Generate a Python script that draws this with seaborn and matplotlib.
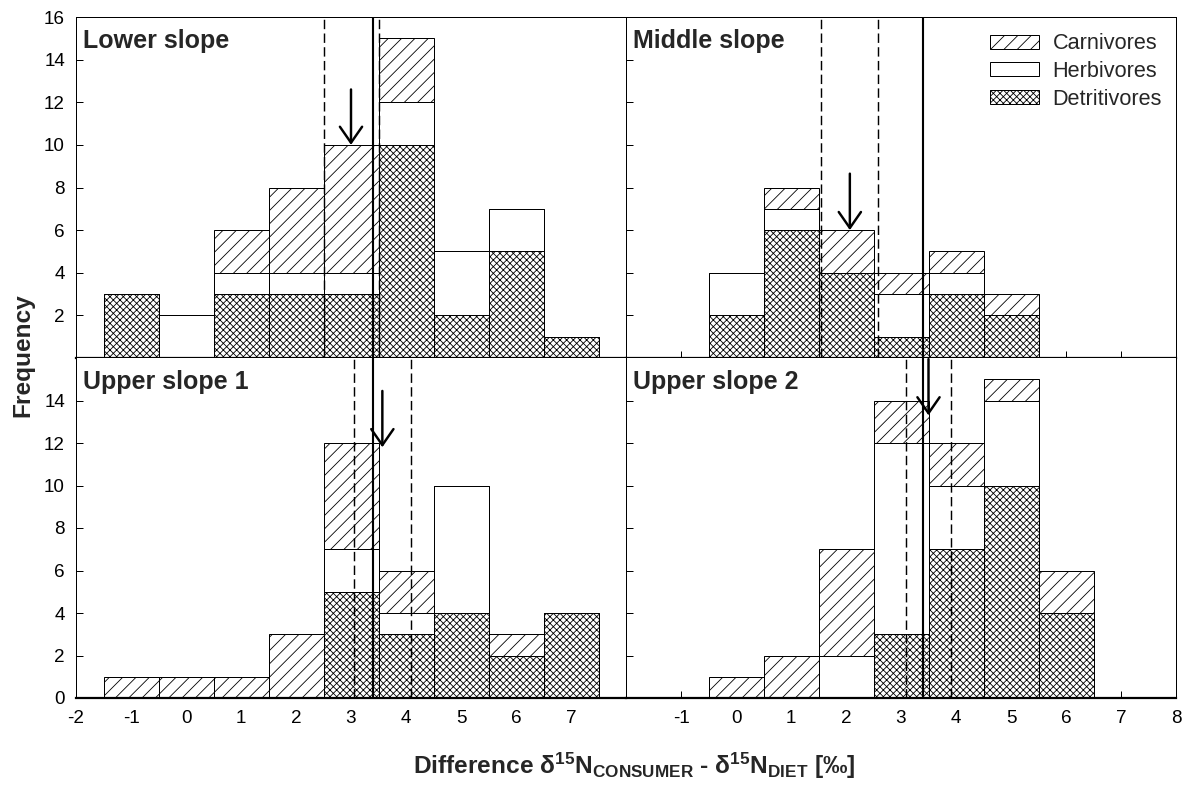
import numpy as np
import pandas as pd
import matplotlib
matplotlib.use("Agg")
import matplotlib.pyplot as plt
from matplotlib.patches import Patch
import seaborn as sns

# ---------------- data ----------------
panel_titles = ["Lower slope", "Middle slope", "Upper slope 1", "Upper slope 2"]
groups = ["Carnivores", "Herbivores", "Detritivores"]

bins_lower = [-1, 0, 1, 2, 3, 4, 5, 6, 7]
det_lower = [3, 0, 3, 3, 3, 10, 2, 5, 1]
herb_lower = [0, 2, 1, 1, 1, 2, 3, 2, 0]
carn_lower = [0, 0, 2, 4, 6, 3, 0, 0, 0]

bins_middle = [0, 1, 2, 3, 4, 5]
det_middle = [2, 6, 4, 1, 3, 2]
herb_middle = [2, 1, 0, 2, 1, 0]
carn_middle = [0, 1, 2, 1, 1, 1]

bins_upper1 = [-1, 0, 1, 2, 3, 4, 5, 6, 7]
det_upper1 = [0, 0, 0, 0, 5, 3, 4, 2, 4]
herb_upper1 = [0, 0, 0, 0, 2, 1, 6, 0, 0]
carn_upper1 = [1, 1, 1, 3, 5, 2, 0, 1, 0]

bins_upper2 = [0, 1, 2, 3, 4, 5, 6]
det_upper2 = [0, 0, 0, 3, 7, 10, 4]
herb_upper2 = [0, 0, 2, 9, 3, 4, 0]
carn_upper2 = [1, 2, 5, 2, 2, 1, 2]

ci_low = [2.5, 1.55, 3.05, 3.09]
ci_high = [3.5, 2.58, 4.09, 3.90]
mean_x = [3.0, 2.07, 3.57, 3.5]
arrow_top = [12.6, 8.65, 14.45, 15.95]
arrow_tip = [10.0, 6.0, 11.8, 13.3]
reference_line = 3.4

top_yticks = [2, 4, 6, 8, 10, 12, 14, 16]
bottom_yticks = [0, 2, 4, 6, 8, 10, 12, 14]
left_xticklabels = ["-2", "-1", "0", "1", "2", "3", "4", "5", "6", "7"]
right_xticklabels = ["-1", "0", "1", "2", "3", "4", "5", "6", "7", "8"]

panels = [
    (bins_lower, det_lower, herb_lower, carn_lower),
    (bins_middle, det_middle, herb_middle, carn_middle),
    (bins_upper1, det_upper1, herb_upper1, carn_upper1),
    (bins_upper2, det_upper2, herb_upper2, carn_upper2),
]

# ---------------- style ----------------
sns.set_style("ticks")
DPI = 80
plt.rcParams["font.family"] = ["Liberation Sans", "DejaVu Sans"]
plt.rcParams["mathtext.fontset"] = "custom"
plt.rcParams["mathtext.rm"] = "Liberation Sans:bold"
plt.rcParams["mathtext.it"] = "Liberation Sans:bold"
plt.rcParams["mathtext.bf"] = "Liberation Sans:bold"
plt.rcParams["hatch.linewidth"] = 0.75
plt.rcParams["hatch.color"] = "black"

W, H = 1184, 785
fig = plt.figure(figsize=(W / DPI, H / DPI), dpi=DPI)

L, M, R, T, MID, B = 76, 626, 1176, 17, 358, 698


def axpos(x0, x1, y0, y1):
    return [x0 / W, 1 - y1 / H, (x1 - x0) / W, (y1 - y0) / H]


positions = [axpos(L, M, T, MID), axpos(M, R, T, MID),
             axpos(L, M, MID, B), axpos(M, R, MID, B)]

bar_kw = dict(native_scale=True, width=1, edgecolor="black", linewidth=0.9,
              saturation=1, errorbar=None)

for i, (pos, (bins, d, h, c)) in enumerate(zip(positions, panels)):
    ax = fig.add_axes(pos)
    df = pd.DataFrame({"bin": bins,
                       "total": np.add(np.add(d, h), c),
                       "dh": np.add(d, h),
                       "d": d})
    sns.barplot(data=df, x="bin", y="total", color="white", hatch="//", ax=ax, **bar_kw)
    sns.barplot(data=df, x="bin", y="dh", color="white", ax=ax, **bar_kw)
    sns.barplot(data=df, x="bin", y="d", color="white", hatch="xxxx", ax=ax, **bar_kw)

    ax.set_xlim(-2, 8)
    ax.set_ylim(0, 16)
    ax.set_xlabel("")
    ax.set_ylabel("")

    # vertical lines
    ax.axvline(reference_line, color="black", lw=1.9, zorder=5)
    for xv in (ci_low[i], ci_high[i]):
        ax.axvline(xv, color="black", lw=1.3, dashes=(6.5, 3), zorder=5)
    ax.annotate("", xy=(mean_x[i], arrow_tip[i]), xytext=(mean_x[i], arrow_top[i]),
                arrowprops=dict(arrowstyle="->,head_length=0.72,head_width=0.5",
                                lw=2.2, color="black", shrinkA=0, shrinkB=0,
                                mutation_scale=20), zorder=6)

    ax.text(0.012, 0.93, panel_titles[i], transform=ax.transAxes, fontsize=22.5,
            fontweight="bold", ha="left", va="center", zorder=7)

    is_top = i < 2
    is_left = i % 2 == 0

    ax.set_xticks(range(-2, 9))
    if is_top:
        ax.set_xticklabels([])
        ax.set_yticks(top_yticks)
    else:
        if is_left:
            ax.set_xticklabels(left_xticklabels + [""])
        else:
            ax.set_xticklabels([""] + right_xticklabels)
        ax.set_yticks(bottom_yticks)
    if is_left:
        ax.set_yticklabels([str(v) for v in ax.get_yticks().astype(int)])
    else:
        ax.set_yticklabels([])

    ax.tick_params(axis="both", direction="in", length=6, width=0.9,
                   labelsize=17, color="black", labelcolor="black")
    ax.tick_params(axis="y", pad=10)
    ax.tick_params(axis="x", pad=11)
    ax.tick_params(top=False, right=False)

    for s in ax.spines.values():
        s.set_color("black")
        s.set_linewidth(0.9)
        s.set_zorder(8)
    ax.spines["bottom"].set_linewidth(2.0)
    if not is_top:
        ax.spines["top"].set_visible(False)
    if is_left:
        ax.spines["right"].set_visible(False)
    ax.grid(False)

    if i == 1:
        handles = [Patch(facecolor="white", edgecolor="black", hatch="//", lw=0.9),
                   Patch(facecolor="white", edgecolor="black", lw=0.9),
                   Patch(facecolor="white", edgecolor="black", hatch="xxxx", lw=0.9)]
        ax.legend(handles, groups, loc="upper right", bbox_to_anchor=(0.99, 0.978),
                  frameon=False, fontsize=19.5, handlelength=2.3, handleheight=0.62,
                  handletextpad=0.6, labelspacing=0.32, borderaxespad=0)

fig.text(23 / W, 1 - 355 / H, "Frequency", rotation=90, fontsize=22,
         fontweight="bold", ha="center", va="center")
fig.text(634 / W, 1 - 766 / H,
         "Difference δ$^{15}$N$_{CONSUMER}$ - δ$^{15}$N$_{DIET}$ [‰]",
         fontsize=22, fontweight="bold", ha="center", va="center")

fig.savefig("out.png", dpi=DPI, facecolor="white")
